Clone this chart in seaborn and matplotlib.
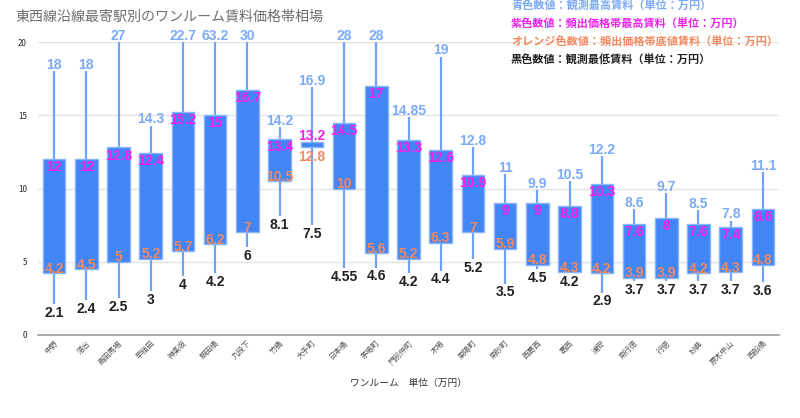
import matplotlib
matplotlib.use("Agg")
import matplotlib.pyplot as plt
import seaborn as sns
import numpy as np
import pandas as pd

# 駅名と4つの値（最高・頻出最高・頻出底値・最低）
stations = ["中野", "落合", "高田馬場", "早稲田", "神楽坂", "飯田橋", "九段下", "竹橋",
            "大手町", "日本橋", "茅場町", "門前仲町", "木場", "東陽町", "南砂町", "西葛西",
            "葛西", "浦安", "南行徳", "行徳", "妙典", "原木中山", "西船橋"]
max_rent = [18, 18, 27, 14.3, 22.7, 63.2, 30, 14.2, 16.9, 28, 28, 14.85, 19, 12.8,
            11, 9.9, 10.5, 12.2, 8.6, 9.7, 8.5, 7.8, 11.1]
upper_rent = [12, 12, 12.8, 12.4, 15.2, 15, 16.7, 13.4, 13.2, 14.5, 17, 13.3, 12.6, 10.9,
              9, 9, 8.8, 10.3, 7.6, 8, 7.6, 7.4, 8.6]
lower_rent = [4.2, 4.5, 5, 5.2, 5.7, 6.2, 7, 10.5, 12.8, 10, 5.6, 5.2, 6.3, 7,
              5.9, 4.8, 4.3, 4.2, 3.9, 3.9, 4.2, 4.3, 4.8]
min_rent = [2.1, 2.4, 2.5, 3, 4, 4.2, 6, 8.1, 7.5, 4.55, 4.6, 4.2, 4.4, 5.2,
            3.5, 4.5, 4.2, 2.9, 3.7, 3.7, 3.7, 3.7, 3.6]

YMAX = 20

sns.set_theme(style="white")
plt.rcParams['font.family'] = ['Noto Sans CJK JP', 'DejaVu Sans']

df = pd.DataFrame({
    "station": stations,
    "box": np.array(upper_rent) - np.array(lower_rent),
})

fig = plt.figure(figsize=[8, 4.18], dpi=100)
ax = fig.add_axes([38 / 800, 1 - 335 / 418, 741 / 800, 293 / 418])

# 箱（頻出価格帯）
sns.barplot(data=df, x="station", y="box", bottom=lower_rent, width=0.7,
            color="#4285f4", saturation=1, edgecolor="#8ab4f8", linewidth=1,
            ax=ax, zorder=3)

# ヒゲ（最低〜最高）
xpos = ax.get_xticks()
ax.vlines(xpos, min_rent, max_rent, color="#6fa3f7", linewidth=1.6, zorder=2)

ax.set_ylim(0, YMAX)
ax.set_xlim(-0.5, len(stations) - 0.5)
ax.set_yticks([0, 5, 10, 15, 20])
ax.yaxis.grid(True, color="#e3e3e3", linewidth=1, zorder=0)
ax.set_axisbelow(True)
for s in ["top", "right", "left"]:
    ax.spines[s].set_visible(False)
ax.spines["bottom"].set_color("#9e9e9e")
ax.spines["bottom"].set_linewidth(1.2)
ax.tick_params(axis="y", length=0, labelsize=5.8, labelcolor="#222222", pad=8)
ax.tick_params(axis="x", length=0, labelsize=5.5, labelcolor="#555555", pad=3)
plt.setp(ax.get_xticklabels(), rotation=45, ha="right", rotation_mode="anchor")
ax.set_ylabel("")
ax.set_xlabel("ワンルーム　単位（万円）", fontsize=7, color="#333333", labelpad=8)

def fmt(v):
    return "{:g}".format(v)

# 数値ラベル
lab = dict(ha="center", va="center", textcoords="offset points",
           fontsize=10, fontweight="bold", family=["Liberation Sans", "DejaVu Sans"],
           zorder=5, annotation_clip=False)
for i, x in enumerate(xpos):
    thin = upper_rent[i] - lower_rent[i] < 1.5
    ax.annotate(fmt(max_rent[i]), xy=(x, min(max_rent[i], YMAX)), xytext=(0, 4.5),
                color="#7baaf7", **lab)
    ax.annotate(fmt(min_rent[i]), xy=(x, min_rent[i]), xytext=(0, -6.3),
                color="#212121", **lab)
    ax.annotate(fmt(upper_rent[i]), xy=(x, upper_rent[i]), xytext=(0, 4 if thin else -5.8),
                color="#f522e6", **lab)
    ax.annotate(fmt(lower_rent[i]), xy=(x, lower_rent[i]), xytext=(0, -6.5 if thin else 3.2),
                color="#f4895f", **lab)

fig.text(15 / 800, 1 - 17 / 418, "東西線沿線最寄駅別のワンルーム賃料価格帯相場",
         fontsize=10.1, color="#6e6e6e", va="center", ha="left")

legend_lines = [
    ("青色数値：観測最高賃料（単位：万円）", "#7baaf7"),
    ("紫色数値：頻出価格帯最高賃料（単位：万円）", "#ee22ee"),
    ("オレンジ色数値：頻出価格帯底値賃料（単位：万円）", "#f4895f"),
    ("黒色数値：観測最低賃料（単位：万円）", "#222222"),
]
for k, (txt, col) in enumerate(legend_lines):
    fig.text(511 / 800, 1 - (6 + 18 * k) / 418, txt, fontsize=8, fontweight="bold",
             color=col, va="center", ha="left")

plt.savefig("out.png", dpi=100)
